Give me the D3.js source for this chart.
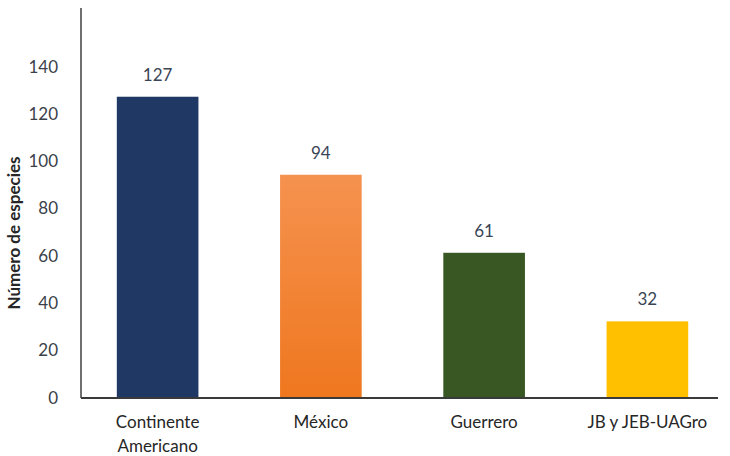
<!DOCTYPE html>
<html>
<head>
<meta charset="utf-8">
<script src="https://cdn.jsdelivr.net/npm/d3@7"></script>
<style>
  body { margin: 0; background: #fff; }
  text { font-family: Lato, "Open Sans", sans-serif; }
</style>
</head>
<body>
<svg id="chart" width="730" height="456"></svg>
<script>
// datos del gráfico
var categorias = ["Continente Americano", "México", "Guerrero", "JB y JEB-UAGro"];
var especies = [127, 94, 61, 32];
var ticksY = [0, 20, 40, 60, 80, 100, 120, 140];
var colores = ["#203864", "url(#naranja)", "#385723", "#ffc000"];

var svg = d3.select("#chart");

// degradado del naranja
var grad = svg.append("defs").append("linearGradient")
    .attr("id", "naranja").attr("x1", 0).attr("y1", 0).attr("x2", 0).attr("y2", 1);
grad.append("stop").attr("offset", "0%").attr("stop-color", "#f5924f");
grad.append("stop").attr("offset", "100%").attr("stop-color", "#ef771f");

var x = d3.scaleBand()
    .domain(categorias)
    .range([76, 729])
    .paddingInner(0.5)
    .paddingOuter(0.25);

var y = d3.scaleLinear()
    .domain([0, 140])
    .range([397, 66]);

// eje Y: solo etiquetas
var ejeY = svg.append("g")
    .attr("transform", "translate(58,0)")
    .call(d3.axisLeft(y).tickValues(ticksY).tickSize(0).tickPadding(0));
ejeY.select(".domain").remove();
ejeY.selectAll("text")
    .style("font-family", "Lato, sans-serif")
    .style("font-size", "17px")
    .attr("fill", "#3b3f4a")
    .attr("dy", "0.36em");

// linea vertical
svg.append("line")
    .attr("x1", 81).attr("x2", 81)
    .attr("y1", 8).attr("y2", 398)
    .attr("stroke", "#404040").attr("stroke-width", 1.5);

// barras
svg.selectAll("rect.bar")
    .data(especies)
    .enter().append("rect")
    .attr("class", "bar")
    .attr("x", function(d, i) { return x(categorias[i]); })
    .attr("width", x.bandwidth())
    .attr("y", function(d) { return y(d); })
    .attr("height", function(d) { return y(0) - y(d); })
    .attr("fill", function(d, i) { return colores[i]; });

// etiquetas de valor
svg.selectAll("text.valor")
    .data(especies)
    .enter().append("text")
    .attr("class", "valor")
    .attr("x", function(d, i) { return x(categorias[i]) + x.bandwidth() / 2; })
    .attr("y", function(d) { return y(d) - 16; })
    .attr("text-anchor", "middle")
    .attr("font-size", "17px")
    .attr("fill", "#3a4556")
    .text(function(d) { return d; });

// eje X
svg.append("line")
    .attr("x1", 81).attr("x2", 718)
    .attr("y1", 398).attr("y2", 398)
    .attr("stroke", "#3a3a3a").attr("stroke-width", 2);

var etiq = svg.selectAll("text.cat")
    .data(categorias)
    .enter().append("text")
    .attr("class", "cat")
    .attr("x", function(d) { return x(d) + x.bandwidth() / 2; })
    .attr("y", 428)
    .attr("text-anchor", "middle")
    .attr("font-size", "17px")
    .attr("fill", "#262626");
etiq.each(function(d) {
    var t = d3.select(this);
    var partes = d === "Continente Americano" ? ["Continente", "Americano"] : [d];
    partes.forEach(function(p, k) {
        t.append("tspan")
            .attr("x", x(d) + x.bandwidth() / 2)
            .attr("dy", k ? "1.4em" : 0)
            .text(p);
    });
});

// titulo eje Y
svg.append("text")
    .attr("transform", "translate(20,233) rotate(-90)")
    .attr("text-anchor", "middle")
    .attr("font-size", "17px")
    .attr("font-weight", "bold")
    .attr("fill", "#262626")
    .text("Número de especies");
</script>
</body>
</html>
